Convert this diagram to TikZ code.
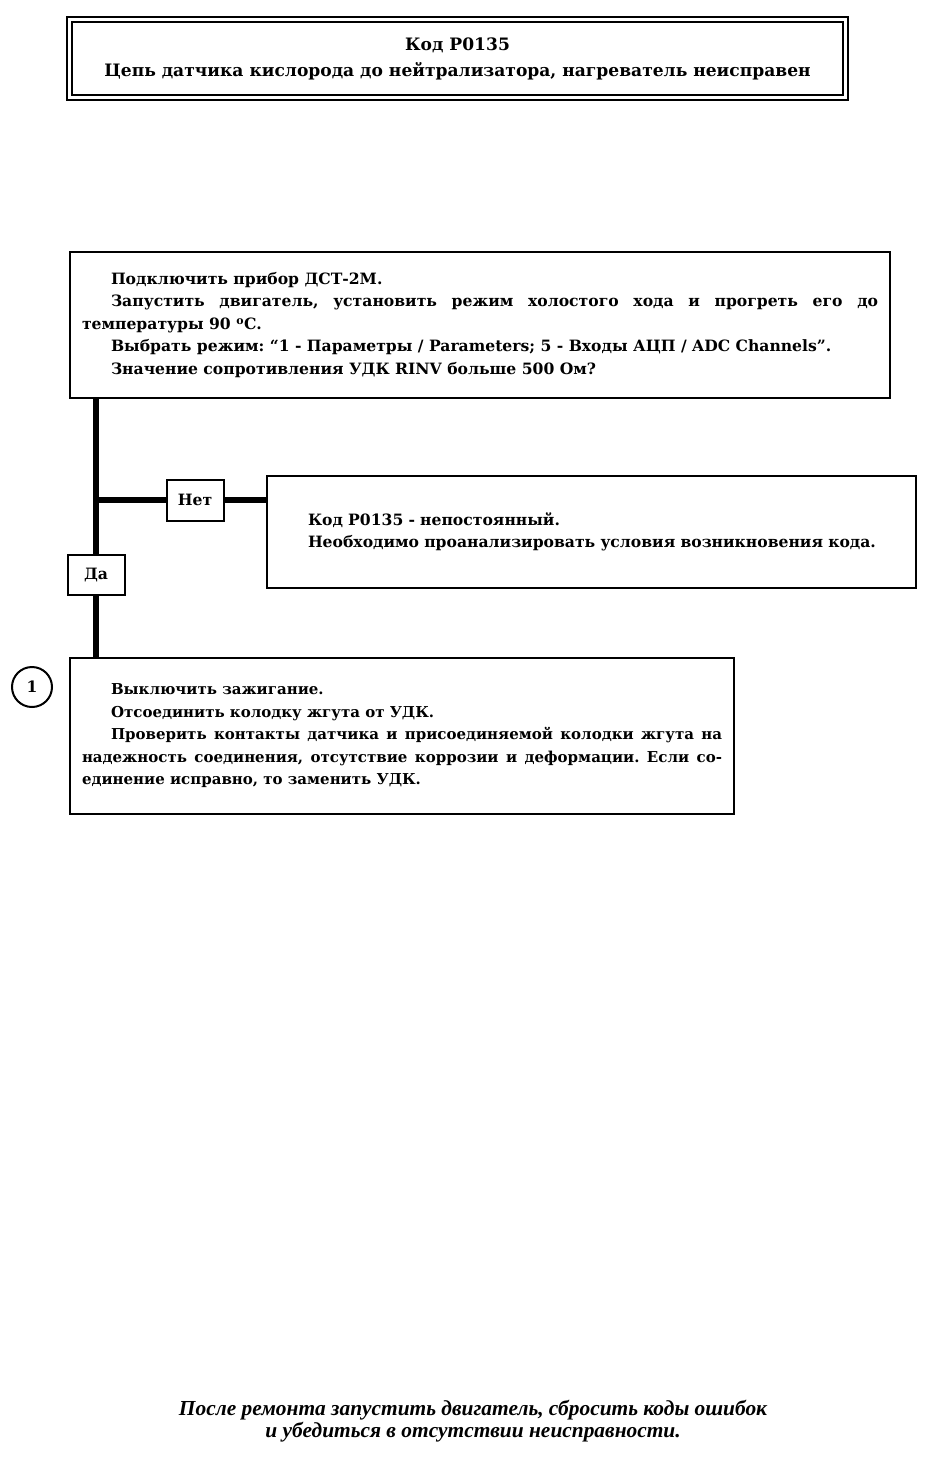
\documentclass[tikz,border=0pt]{standalone}
\usepackage{fontspec}
\setmainfont{DejaVu Serif}
\newfontfamily\footfont{Liberation Serif}
\frenchspacing
\begin{document}
\begin{tikzpicture}[x=1pt,y=-1pt,
		box/.style={draw,line width=2pt,anchor=north west,inner xsep=12pt,inner ysep=0pt,align=justify,font=\bfseries\fontsize{15.6}{22.5}\selectfont},
		lbl/.style={draw,line width=2pt,minimum width=57pt,minimum height=41pt,inner sep=0pt,font=\bfseries\fontsize{15.6}{20}\selectfont},
		wire/.style={line width=6pt}]
		\useasboundingbox (0,0) rectangle (937,1464);
		\node [draw,double,line width=2pt,double distance=2.5pt,minimum width=776pt,minimum height=78pt,align=center,font=\bfseries\fontsize{17.1}{26}\selectfont] (0) at (457.5,58.5) {Код P0135\\Цепь датчика кислорода до нейтрализатора, нагреватель неисправен};
		\node [box,minimum width=820pt,minimum height=146pt,text width=796pt] (1) at (69,251) {\hspace*{29pt}Подключить прибор ДСТ-2М.\par
			\hspace*{29pt}Запустить двигатель, установить режим холостого хода и прогреть его до\linebreak температуры 90 \textsuperscript{o}С.\par
			\hspace*{29pt}Выбрать режим: “1 - Параметры / Parameters; 5 - Входы АЦП / ADC Channels”.\par
			\hspace*{29pt}Значение сопротивления УДК RINV больше 500 Ом?};
		\node [lbl] (2) at (195,500) {Нет};
		\node [box,align=left,minimum width=649pt,minimum height=112pt,inner xsep=24pt,text width=601pt] (3) at (266,475) {\hspace*{17pt}Код P0135 - непостоянный.\\\hspace*{17pt}Необходимо проанализировать условия возникновения кода.};
		\node [lbl,minimum height=40pt] (4) at (96,575) {Да};
		\node [box,minimum width=664pt,minimum height=156pt,text width=640pt,font=\bfseries\fontsize{15}{22.5}\selectfont] (5) at (69,657) {\hspace*{29pt}Выключить зажигание.\par
			\hspace*{29pt}Отсоединить колодку жгута от УДК.\par
			\hspace*{29pt}Проверить контакты датчика и присоединяемой колодки жгута на\linebreak надежность соединения, отсутствие коррозии и деформации. Если со-\linebreak единение исправно, то заменить УДК.};
		\node [draw,circle,line width=2pt,minimum size=40pt,inner sep=0pt,font=\bfseries\fontsize{15.6}{20}\selectfont] (6) at (32,687) {1};
		\node [align=center,font=\footfont\bfseries\itshape\fontsize{21.4}{22}\selectfont] (7) at (473,1421) {После ремонта запустить двигатель, сбросить коды ошибок\\и убедиться в отсутствии неисправности.};
		\coordinate (j) at (4 |- 2);
		\draw [wire] (4 |- 1.south) -- (4.north);
		\draw [wire] (4.south) -- (4 |- 5.north);
		\draw [wire] (j) -- (2);
		\draw [wire] (2) -- (3.west |- 2);
	\end{tikzpicture}
\end{document}
